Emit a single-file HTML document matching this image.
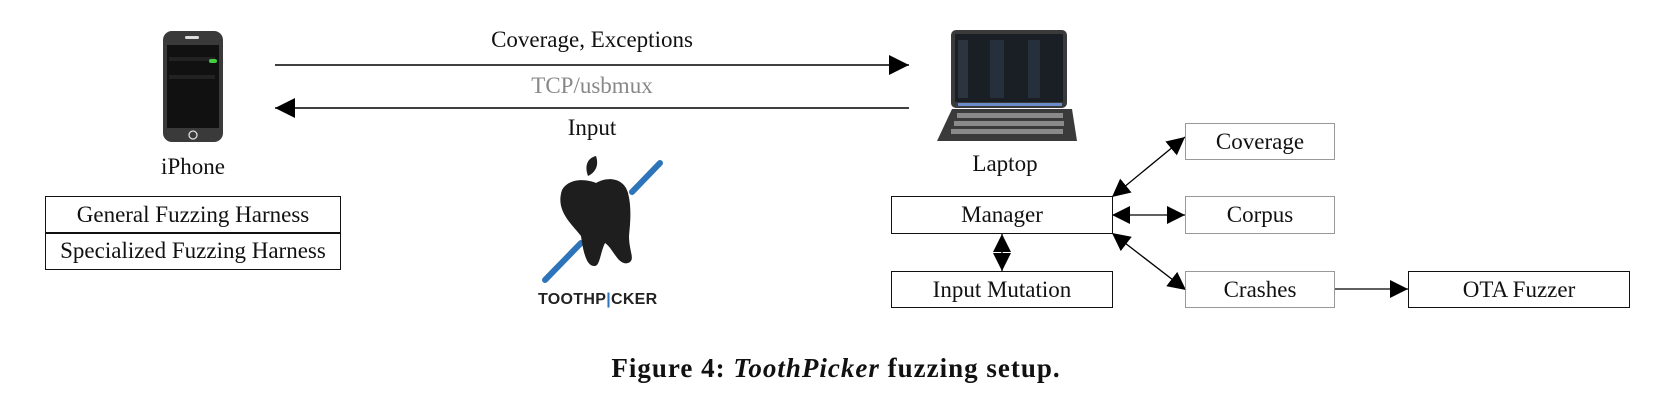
<!DOCTYPE html>
<html><head><meta charset="utf-8"><style>
body{margin:0;background:#fff;width:1664px;height:414px;overflow:hidden;position:relative;font-family:"Liberation Serif",serif;}
.t{position:absolute;white-space:nowrap;font-size:23px;color:#111;transform:translateX(-50%);}
.b{position:absolute;box-sizing:border-box;border:1.5px solid #111;display:flex;align-items:center;justify-content:center;font-size:23px;color:#111;}
.g{border-color:#999;}
</style></head><body>
<svg width="1664" height="414" style="position:absolute;left:0;top:0">
<defs>
<marker id="a" viewBox="0 0 10 10" refX="10" refY="5" markerWidth="18" markerHeight="18" markerUnits="userSpaceOnUse" orient="auto-start-reverse"><path d="M0,0L10,5L0,10z" fill="#000"/></marker>
<marker id="A" viewBox="0 0 10 10" refX="10" refY="5" markerWidth="20" markerHeight="20" markerUnits="userSpaceOnUse" orient="auto-start-reverse"><path d="M0,0L10,5L0,10z" fill="#000"/></marker>
</defs>
<!-- iPhone -->
<rect x="163" y="31" width="60" height="111" rx="9" fill="#3a3a3a"/>
<rect x="167" y="45" width="52" height="83" fill="#111"/>
<rect x="185" y="36" width="14" height="3" rx="1.5" fill="#ddd"/>
<circle cx="193" cy="135" r="4" fill="none" stroke="#ddd" stroke-width="1.3"/>
<rect x="169" y="57" width="46" height="4" fill="#222"/>
<rect x="209" y="59" width="8" height="4" rx="2" fill="#4c4"/>
<rect x="169" y="75" width="46" height="4" fill="#222"/>
<!-- arrows top -->
<line x1="275" y1="65" x2="909" y2="65" stroke="#000" stroke-width="1.5" marker-end="url(#A)"/>
<line x1="909" y1="108" x2="275" y2="108" stroke="#000" stroke-width="1.5" marker-end="url(#A)"/>
<!-- laptop -->
<rect x="951" y="30" width="116" height="78" rx="5" fill="#3a3a3a"/>
<rect x="955" y="34" width="108" height="68" fill="#1a1f26"/>
<rect x="958" y="40" width="10" height="58" fill="#2c3440"/>
<rect x="990" y="40" width="14" height="58" fill="#25303c"/>
<rect x="1028" y="40" width="12" height="58" fill="#25303c"/>
<rect x="958" y="103" width="104" height="3" fill="#6a8cc8"/>
<path d="M952 109 L1072 109 L1077 141 L937 141 Z" fill="#3a3a3a"/>
<g fill="#8a8a8a">
<rect x="957" y="113" width="106" height="5"/><rect x="954" y="121" width="110" height="5"/><rect x="951" y="129" width="112" height="5"/>
</g>
<!-- logo -->
<line x1="545" y1="280" x2="581" y2="243" stroke="#2e74ba" stroke-width="6" stroke-linecap="round"/>
<line x1="632" y1="192" x2="660" y2="163" stroke="#2e74ba" stroke-width="6" stroke-linecap="round"/>
<path d="M588 176 C584 165,588 158,596 156 C599 165,596 172,588 176Z" fill="#1e1e1e"/>
<path d="M562 190 C570 176,590 180,596 183 C608 176,624 178,628 193 C632 208,630 225,629 236 C629 252,636 260,628 263 C618 266,613 248,605 243 C600 253,600 267,594 266 C586 266,583 250,581 236 C572 224,555 211,562 190Z" fill="#1e1e1e"/>
<!-- diagram arrows -->
<line x1="1112" y1="197" x2="1185" y2="137" stroke="#000" stroke-width="1.3" marker-start="url(#a)" marker-end="url(#a)"/>
<line x1="1112" y1="215" x2="1185" y2="215" stroke="#000" stroke-width="1.3" marker-start="url(#a)" marker-end="url(#a)"/>
<line x1="1112" y1="233" x2="1186" y2="290" stroke="#000" stroke-width="1.3" marker-start="url(#a)" marker-end="url(#a)"/>
<line x1="1002" y1="234" x2="1002" y2="271" stroke="#000" stroke-width="1.3" marker-start="url(#a)" marker-end="url(#a)"/>
<line x1="1335" y1="289" x2="1408" y2="289" stroke="#000" stroke-width="1.3" marker-end="url(#a)"/>
</svg>
<div class="t" style="left:193px;top:154px">iPhone</div>
<div class="t" style="left:592px;top:27px">Coverage, Exceptions</div>
<div class="t" style="left:592px;top:73px;color:#888">TCP/usbmux</div>
<div class="t" style="left:592px;top:115px">Input</div>
<div class="t" style="left:1005px;top:151px">Laptop</div>
<div style="position:absolute;left:538px;top:291px;font-family:'Liberation Sans',sans-serif;font-weight:bold;font-size:16px;letter-spacing:0.3px;color:#222">TOOTHP<span style="color:#2e74ba">|</span>CKER</div>
<div class="b" style="left:45px;top:196px;width:296px;height:38px">General Fuzzing Harness</div>
<div class="b" style="left:45px;top:232px;width:296px;height:38px">Specialized Fuzzing Harness</div>
<div class="b" style="left:891px;top:196px;width:222px;height:38px">Manager</div>
<div class="b" style="left:891px;top:271px;width:222px;height:37px">Input Mutation</div>
<div class="b g" style="left:1185px;top:123px;width:150px;height:37px">Coverage</div>
<div class="b g" style="left:1185px;top:196px;width:150px;height:38px">Corpus</div>
<div class="b g" style="left:1185px;top:271px;width:150px;height:37px">Crashes</div>
<div class="b" style="left:1408px;top:271px;width:222px;height:37px">OTA Fuzzer</div>
<div class="t" style="left:836px;top:353px;font-size:27px;font-weight:bold;letter-spacing:1px">Figure 4: <i>ToothPicker</i> fuzzing setup.</div>
</body></html>
